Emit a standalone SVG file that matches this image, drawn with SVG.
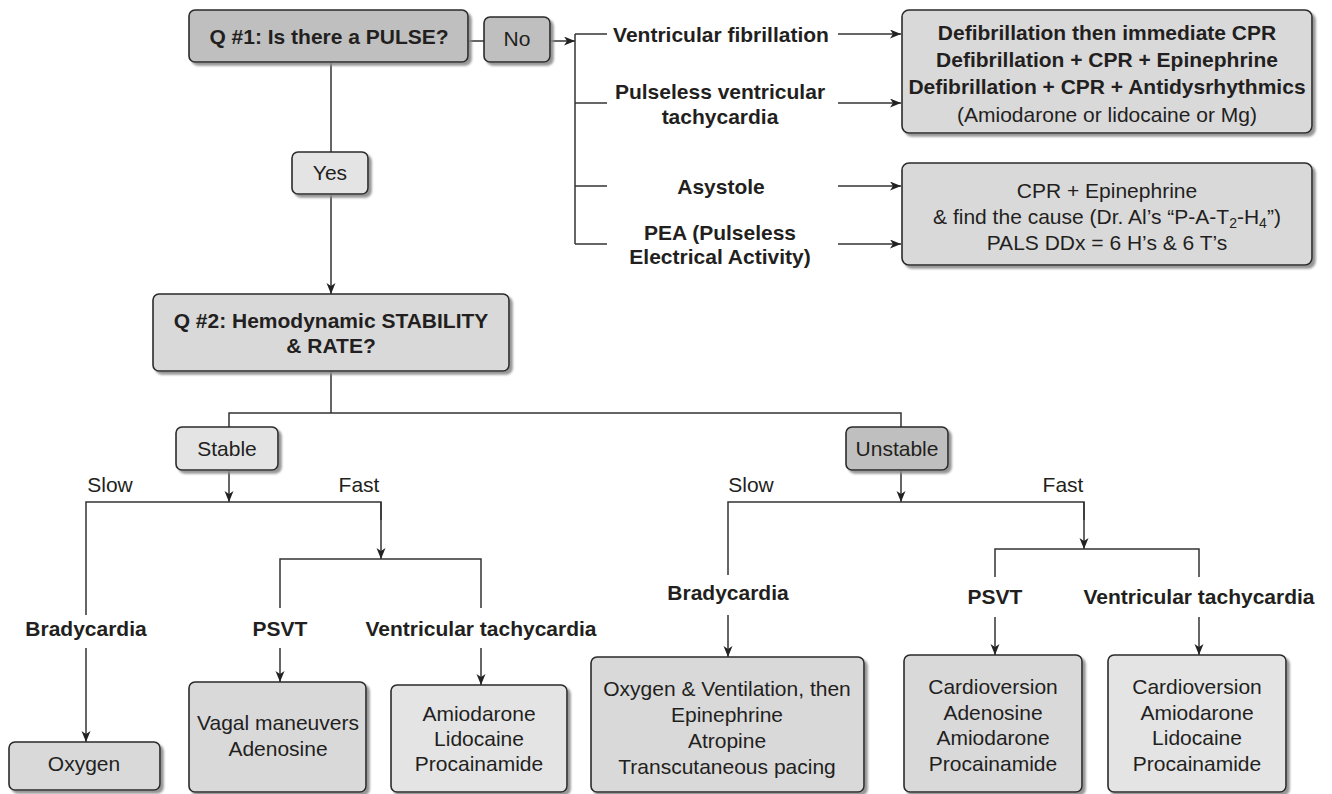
<svg xmlns="http://www.w3.org/2000/svg" width="1332" height="794" viewBox="0 0 1332 794">
<style>
  text{font-family:"Liberation Sans",Arial,sans-serif;font-size:21px;fill:#231f20;text-anchor:middle}
  .b{font-weight:bold}
  .box{stroke:#2a2a2a;stroke-width:1.6;filter:url(#sh)}
  .dark{fill:#bfbfbf}
  .mid{fill:#d9d9da}
  .light{fill:#e4e4e5}
  .ln{fill:none;stroke:#333;stroke-width:1.5}
  .ar{fill:none;stroke:#333;stroke-width:1.5;marker-end:url(#ah)}
</style>
<defs>
  <filter id="sh" x="-10%" y="-10%" width="130%" height="130%">
    <feDropShadow dx="3" dy="3" stdDeviation="1" flood-color="#8a8a8a" flood-opacity="0.9"/>
  </filter>
  <marker id="ah" markerUnits="userSpaceOnUse" markerWidth="12" markerHeight="10" refX="11" refY="4.5" orient="auto">
    <path d="M0,0 L11,4.5 L0,9 L3,4.5 z" fill="#222"/>
  </marker>
</defs>
<rect width="1332" height="794" fill="#fff"/>

<g id="connectors">
  <line class="ln" x1="468" y1="41" x2="484" y2="41"/>
  <line class="ar" x1="550" y1="41" x2="575" y2="41"/>
  <line class="ln" x1="575" y1="34" x2="575" y2="244"/>
  <line class="ln" x1="575" y1="34" x2="607" y2="34"/>
  <line class="ln" x1="575" y1="103" x2="607" y2="103"/>
  <line class="ln" x1="575" y1="186" x2="607" y2="186"/>
  <line class="ln" x1="575" y1="244" x2="607" y2="244"/>
  <line class="ar" x1="838" y1="34" x2="901" y2="34"/>
  <line class="ar" x1="838" y1="103" x2="901" y2="103"/>
  <line class="ar" x1="838" y1="186" x2="901" y2="186"/>
  <line class="ar" x1="838" y1="244" x2="901" y2="244"/>
  <line class="ln" x1="331" y1="62" x2="331" y2="152"/>
  <line class="ar" x1="331" y1="194" x2="331" y2="294"/>
  <line class="ln" x1="331" y1="371" x2="331" y2="413"/>
  <polyline class="ln" points="229,427 229,413 901,413 901,427"/>
  <line class="ar" x1="229" y1="470" x2="229" y2="502"/>
  <polyline class="ln" points="86,615 86,502 381,502 381,520"/>
  <line class="ar" x1="381" y1="502" x2="381" y2="559"/>
  <polyline class="ln" points="280,608 280,559 481,559 481,608"/>
  <line class="ar" x1="86" y1="648" x2="86" y2="742"/>
  <line class="ar" x1="280" y1="648" x2="280" y2="682"/>
  <line class="ar" x1="481" y1="648" x2="481" y2="685"/>
  <line class="ar" x1="901" y1="470" x2="901" y2="502"/>
  <polyline class="ln" points="728,575 728,502 1084,502 1084,520"/>
  <line class="ar" x1="1084" y1="502" x2="1084" y2="549"/>
  <polyline class="ln" points="995,577 995,549 1199,549 1199,577"/>
  <line class="ar" x1="728" y1="615" x2="728" y2="657"/>
  <line class="ar" x1="995" y1="617" x2="995" y2="655"/>
  <line class="ar" x1="1199" y1="617" x2="1199" y2="655"/>
</g>

<g id="q1">
  <rect class="box dark" x="189" y="10" width="279" height="52" rx="6"/>
  <text class="b" x="329" y="44">Q #1: Is there a PULSE?</text>
</g>
<g id="no">
  <rect class="box dark" x="484" y="17" width="66" height="45" rx="6"/>
  <text x="517" y="46">No</text>
</g>

<g id="vf-label"><text class="b" x="721" y="42">Ventricular fibrillation</text></g>
<g id="pvt-label">
  <text class="b" x="720" y="99">Pulseless ventricular</text>
  <text class="b" x="720" y="124">tachycardia</text>
</g>
<g id="asystole-label"><text class="b" x="721" y="194">Asystole</text></g>
<g id="pea-label">
  <text class="b" x="720" y="240">PEA (Pulseless</text>
  <text class="b" x="720" y="264">Electrical Activity)</text>
</g>

<g id="defib-box">
  <rect class="box mid" x="902" y="10" width="410" height="123" rx="7"/>
  <text class="b" x="1107" y="40">Defibrillation then immediate CPR</text>
  <text class="b" x="1107" y="67">Defibrillation + CPR + Epinephrine</text>
  <text class="b" x="1107" y="94">Defibrillation + CPR + Antidysrhythmics</text>
  <text x="1107" y="122">(Amiodarone or lidocaine or Mg)</text>
</g>
<g id="cpr-box">
  <rect class="box mid" x="902" y="163" width="410" height="102" rx="7"/>
  <text x="1107" y="198">CPR + Epinephrine</text>
  <text x="1107" y="224">&amp; find the cause (Dr. Al’s “P-A-T<tspan dy="4" font-size="14">2</tspan><tspan dy="-4">-H</tspan><tspan dy="4" font-size="14">4</tspan><tspan dy="-4">”)</tspan></text>
  <text x="1107" y="250">PALS DDx = 6 H’s &amp; 6 T’s</text>
</g>

<g id="yes">
  <rect class="box light" x="292" y="152" width="76" height="42" rx="6"/>
  <text x="330" y="180">Yes</text>
</g>

<g id="q2">
  <rect class="box mid" x="153" y="294" width="356" height="77" rx="6"/>
  <text class="b" x="331" y="328">Q #2: Hemodynamic STABILITY</text>
  <text class="b" x="331" y="353">&amp; RATE?</text>
</g>

<g id="stable">
  <rect class="box light" x="176" y="427" width="102" height="43" rx="6"/>
  <text x="227" y="456">Stable</text>
</g>
<g id="unstable">
  <rect class="box dark" x="846" y="427" width="102" height="43" rx="6"/>
  <text x="897" y="456">Unstable</text>
</g>

<g id="rate-labels">
  <text x="110" y="492">Slow</text>
  <text x="359" y="492">Fast</text>
  <text x="751" y="492">Slow</text>
  <text x="1063" y="492">Fast</text>
</g>

<g id="stable-labels">
  <text class="b" x="86" y="636">Bradycardia</text>
  <text class="b" x="280" y="636">PSVT</text>
  <text class="b" x="481" y="636">Ventricular tachycardia</text>
</g>
<g id="unstable-labels">
  <text class="b" x="728" y="600">Bradycardia</text>
  <text class="b" x="995" y="604">PSVT</text>
  <text class="b" x="1199" y="604">Ventricular tachycardia</text>
</g>

<g id="oxygen-box">
  <rect class="box mid" x="9" y="742" width="151" height="48" rx="6"/>
  <text x="84" y="771">Oxygen</text>
</g>
<g id="vagal-box">
  <rect class="box mid" x="189" y="682" width="177" height="110" rx="6"/>
  <text x="278" y="730">Vagal maneuvers</text>
  <text x="278" y="756">Adenosine</text>
</g>
<g id="stable-vt-box">
  <rect class="box light" x="391" y="685" width="176" height="107" rx="6"/>
  <text x="479" y="721">Amiodarone</text>
  <text x="479" y="746">Lidocaine</text>
  <text x="479" y="771">Procainamide</text>
</g>
<g id="unstable-brady-box">
  <rect class="box mid" x="591" y="657" width="273" height="135" rx="6"/>
  <text x="727" y="696">Oxygen &amp; Ventilation, then</text>
  <text x="727" y="722">Epinephrine</text>
  <text x="727" y="748">Atropine</text>
  <text x="727" y="774">Transcutaneous pacing</text>
</g>
<g id="unstable-psvt-box">
  <rect class="box mid" x="904" y="655" width="178" height="137" rx="6"/>
  <text x="993" y="694">Cardioversion</text>
  <text x="993" y="720">Adenosine</text>
  <text x="993" y="745">Amiodarone</text>
  <text x="993" y="771">Procainamide</text>
</g>
<g id="unstable-vt-box">
  <rect class="box light" x="1108" y="655" width="178" height="137" rx="6"/>
  <text x="1197" y="694">Cardioversion</text>
  <text x="1197" y="720">Amiodarone</text>
  <text x="1197" y="745">Lidocaine</text>
  <text x="1197" y="771">Procainamide</text>
</g>
</svg>
